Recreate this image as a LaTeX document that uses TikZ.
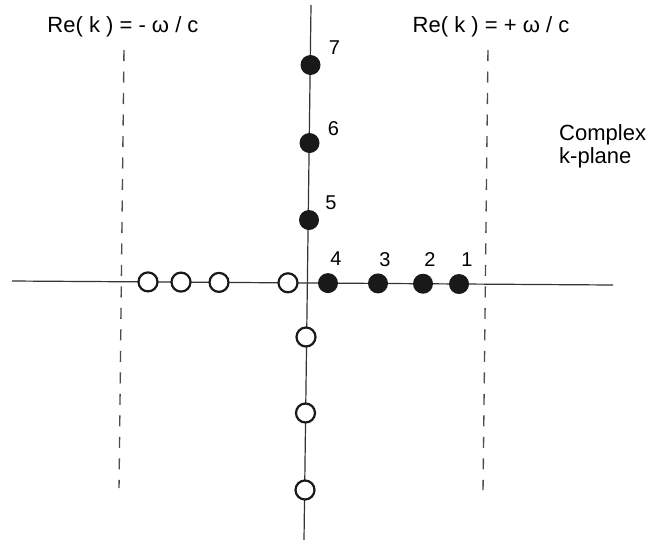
\documentclass[tikz,border=0pt]{standalone}
\usepackage{fontspec}
\setmainfont{Liberation Sans}
\usepackage{tikz}
\usetikzlibrary{positioning,calc}
\tikzset{
  axisline/.style={line width=1.2pt,draw=black!80},
  boundline/.style={line width=1.4pt,draw=black!70,dash pattern=on 11pt off 10.5pt},
  pole/.style={circle,fill=black!90,inner sep=0pt,minimum size=20pt},
  zeropt/.style={circle,draw=black!90,line width=2.2pt,fill=white,inner sep=0pt,minimum size=19pt},
  polenum/.style={inner sep=0pt,font=\fontsize{20}{22}\selectfont},
  bigtext/.style={inner sep=0pt,font=\fontsize{22}{23}\selectfont}
}

\begin{document}
\begin{tikzpicture}[x=1pt,y=-1pt]
\useasboundingbox (0,0) rectangle (655,547);
% axes of the k-plane
\coordinate (hl) at (12,281);
\coordinate (hr) at (613,285);
\coordinate (vt) at (311,5);
\coordinate (vb) at (304,540);
\draw[axisline] (hl)--(hr);
\draw[axisline] (vt)--(vb);
% lines Re(k) = -w/c and +w/c
\coordinate (bl-top) at (124,50);
\coordinate (bl-bot) at (119,488);
\coordinate (br-top) at (488,50);
\coordinate (br-bot) at (483,490);
\draw[boundline] (bl-top)--(bl-bot);
\draw[boundline] (br-top)--(br-bot);
\node[bigtext,anchor=base] (lbl-minus) at (123,32) {Re( k ) = - ω / c};
\node[bigtext,anchor=base] (lbl-plus) at (491,32) {Re( k ) = + ω / c};
\node[bigtext,align=left,anchor=west] (plane) at (559,146) {Complex\\k-plane};
% filled points
\node[pole] (p1) at (459,284) {};
\node[pole] (p2) at (423,283.7) {};
\node[pole] (p3) at (378,283.4) {};
\node[pole] (p4) at (328,283.1) {};
\node[pole] (p5) at (309,220) {};
\node[pole] (p6) at (309.5,143) {};
\node[pole] (p7) at (310.5,65) {};
\node[polenum] (n1) at ([shift={(8,-24)}]p1) {1};
\node[polenum] (n2) at ([shift={(7,-24)}]p2) {2};
\node[polenum] (n3) at ([shift={(7,-24)}]p3) {3};
\node[polenum] (n4) at ([shift={(8,-24)}]p4) {4};
\node[polenum] (n5) at ([shift={(22,-17)}]p5) {5};
\node[polenum] (n6) at ([shift={(24,-14)}]p6) {6};
\node[polenum] (n7) at ([shift={(24,-17)}]p7) {7};
% open points
\node[zeropt] (z1) at (288,282.8) {};
\node[zeropt] (z2) at (219,282.4) {};
\node[zeropt] (z3) at (181,282.1) {};
\node[zeropt] (z4) at (148,281.9) {};
\node[zeropt] (z5) at (306,337) {};
\node[zeropt] (z6) at (305.5,413) {};
\node[zeropt] (z7) at (305,490) {};
\end{tikzpicture}
\end{document}
